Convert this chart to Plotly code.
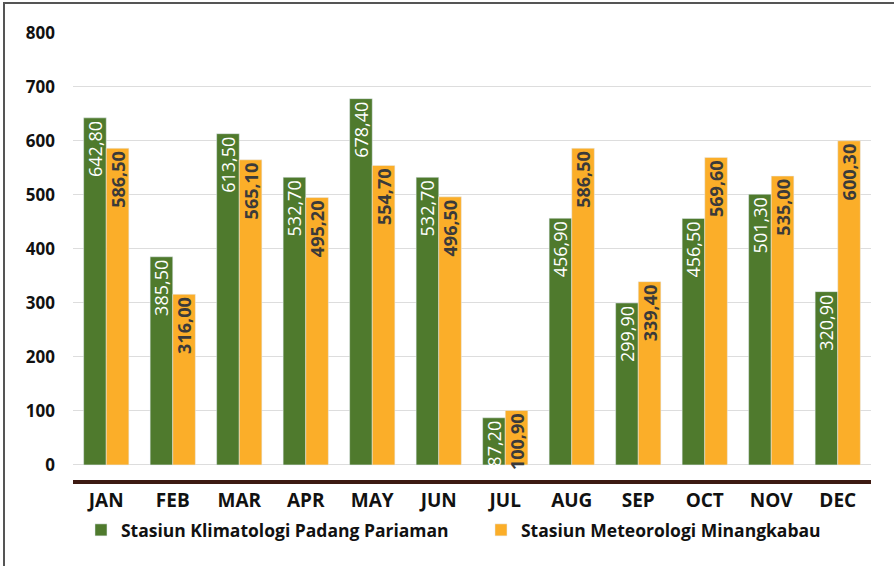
import plotly.graph_objects as go

months = ['JAN', 'FEB', 'MAR', 'APR', 'MAY', 'JUN', 'JUL', 'AUG', 'SEP', 'OCT', 'NOV', 'DEC']
padang_pariaman = [642.8, 385.5, 613.5, 532.7, 678.4, 532.7, 87.2, 456.9, 299.9, 456.5, 501.3, 320.9]
minangkabau = [586.5, 316.0, 565.1, 495.2, 554.7, 496.5, 100.9, 586.5, 339.4, 569.6, 535.0, 600.3]
y_ticks = [0, 100, 200, 300, 400, 500, 600, 700, 800]


def fmt(v):
    # comma as decimal separator
    return f'{v:.2f}'.replace('.', ',')


W, H = 894, 566
ml, mr, mt, mb = 73, 23, 33, 86

fig = go.Figure()
fig.add_trace(go.Bar(
    x=months, y=padang_pariaman,
    name='Stasiun Klimatologi Padang Pariaman',
    marker_color='#4f7a2d',
    text=[fmt(v) for v in padang_pariaman],
    textposition='inside', insidetextanchor='end', textangle=-90,
    constraintext='none',
    textfont=dict(family='Open Sans', size=18, color='white'),
))
fig.add_trace(go.Bar(
    x=months, y=minangkabau,
    name='Stasiun Meteorologi Minangkabau',
    marker_color='#fbae29',
    text=[fmt(v) for v in minangkabau],
    textposition='inside', insidetextanchor='end', textangle=-90,
    constraintext='none',
    textfont=dict(family='Open Sans', size=18, color='#3a3a3a', weight='bold'),
))

pw = W - ml - mr
ph = H - mt - mb
# frame round the chart (only left and top edges are inside the picture)
fig.add_shape(type='rect', xref='paper', yref='paper',
              x0=(4 - ml) / pw, x1=(W + 30 - ml) / pw,
              y0=-(H + 30 - mt - ph) / ph, y1=1 + (mt - 3) / ph,
              line=dict(color='#555555', width=2), layer='below')

fig.update_layout(
    width=W, height=H,
    margin=dict(l=ml, r=mr, t=mt, b=mb, autoexpand=False),
    plot_bgcolor='white', paper_bgcolor='white',
    barmode='group', bargap=0.32, bargroupgap=0,
    font=dict(family='Open Sans', color='#111111'),
    showlegend=True,
    legend=dict(orientation='h', x=0.01, xanchor='left',
                yref='container', y=(H - 530) / H, yanchor='middle',
                font=dict(size=17.5, weight='bold', color='#111111'),
                itemwidth=30, entrywidth=355, traceorder='normal',
                bgcolor='rgba(0,0,0,0)'),
    xaxis=dict(showline=True, linecolor='#3d1a12', linewidth=4,
               tickfont=dict(size=19, weight='bold'), ticks='', showgrid=False),
    yaxis=dict(range=[-28, 800], tickvals=y_ticks, showgrid=True, gridcolor='#dddddd',
               gridwidth=1, zeroline=False, showline=False,
               tickfont=dict(size=17, weight='bold'), ticklabelstandoff=17),
)

fig.write_html('out.html', config={'displayModeBar': False},
               post_script="document.body.style.margin='0';")
